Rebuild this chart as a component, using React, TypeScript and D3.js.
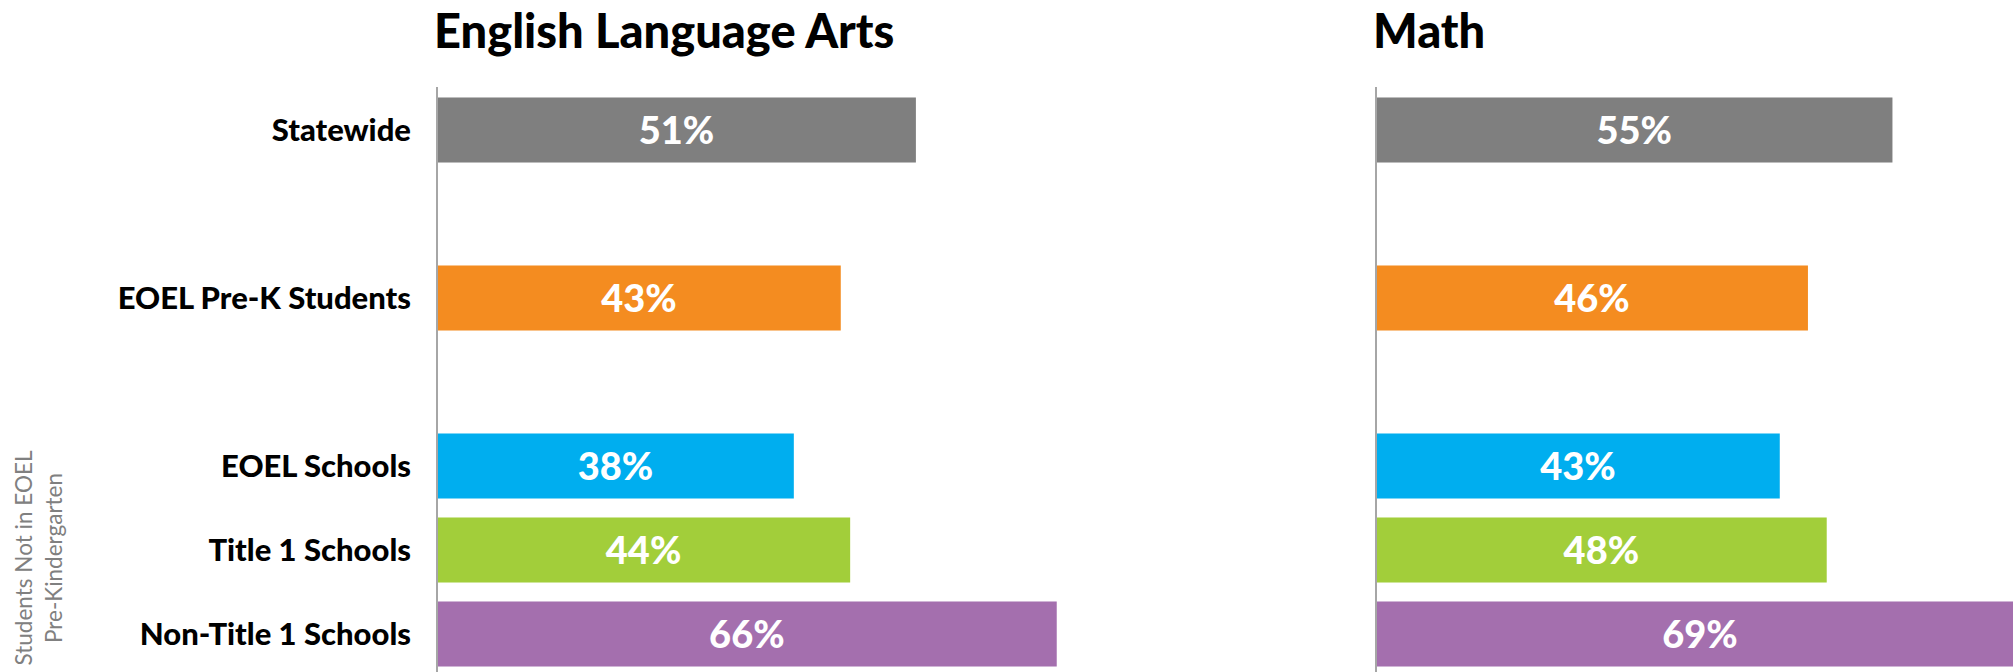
import { useRef, useEffect } from "react";
import * as d3 from "d3";

const categories = ["Statewide", "EOEL Pre-K Students", "EOEL Schools", "Title 1 Schools", "Non-Title 1 Schools"];
const elaValues = [51, 43, 38, 44, 66];
const mathValues = [55, 46, 43, 48, 69];
const barColors = ["#7f7f7f", "#f48c20", "#00aeef", "#a2ce3a", "#a46fae"];
const subjects = ["English Language Arts", "Math"];
const sideNote = ["Students Not in EOEL", "Pre-Kindergarten"];

const FONT = "Lato, 'Open Sans', sans-serif";

export default function App() {
  const svgRef = useRef<SVGSVGElement>(null);

  useEffect(() => {
    document.body.style.margin = "0";
    document.body.style.overflow = "hidden";
    if (!svgRef.current) return;

    const W = 2013;
    const H = 672;
    const svg = d3.select(svgRef.current);
    svg.selectAll("*").remove();
    svg.attr("width", W).attr("height", H);

    // empty slots after Statewide and after Pre-K give the bigger gaps
    const slots: string[] = [];
    categories.forEach((c, i) => {
      slots.push(c);
      if (i < 2) slots.push(`__gap${i}`);
    });

    const pad = 0.226;
    const y = d3.scaleBand<string>().domain(slots).range([88, 676]).paddingInner(pad).paddingOuter(pad / 2);
    const x = d3.scaleLinear().domain([0, 100]).range([0, 939]);

    const panels = [
      { title: subjects[0], values: elaValues, x0: 437 },
      { title: subjects[1], values: mathValues, x0: 1376 },
    ];

    panels.forEach((p) => {
      const g = svg.append("g").attr("transform", `translate(${p.x0},0)`);

      g.append("text")
        .attr("x", -3)
        .attr("y", 48)
        .attr("font-family", FONT)
        .attr("font-weight", 900)
        .attr("font-size", 47)
        .attr("fill", "#000")
        .text(p.title);

      g.selectAll("rect.bar")
        .data(p.values)
        .enter()
        .append("rect")
        .attr("class", "bar")
        .attr("x", 0)
        .attr("y", (_, i) => y(categories[i])!)
        .attr("width", (d) => x(d))
        .attr("height", y.bandwidth())
        .attr("fill", (_, i) => barColors[i]);

      g.selectAll("text.val")
        .data(p.values)
        .enter()
        .append("text")
        .attr("class", "val")
        .attr("x", (d) => x(d) / 2)
        .attr("y", (_, i) => y(categories[i])! + y.bandwidth() / 2)
        .attr("dy", "0.36em")
        .attr("text-anchor", "middle")
        .attr("font-family", FONT)
        .attr("font-weight", 900)
        .attr("font-size", 38)
        .attr("fill", "#fff")
        .text((d) => `${d}%`);

      g.append("line")
        .attr("x1", 0)
        .attr("x2", 0)
        .attr("y1", 87)
        .attr("y2", H)
        .attr("stroke", "#a6a6a6")
        .attr("stroke-width", 2);
    });

    // category labels (left panel only)
    svg
      .append("g")
      .selectAll("text")
      .data(categories)
      .enter()
      .append("text")
      .attr("x", 411)
      .attr("y", (d) => y(d)! + y.bandwidth() / 2)
      .attr("dy", "0.34em")
      .attr("text-anchor", "end")
      .attr("font-family", FONT)
      .attr("font-weight", 900)
      .attr("font-size", 31)
      .attr("fill", "#000")
      .text((d) => d);

    const note = svg
      .append("text")
      .attr("transform", "translate(32,558) rotate(-90)")
      .attr("text-anchor", "middle")
      .attr("font-family", FONT)
      .attr("font-size", 22.5)
      .attr("fill", "#808080");
    sideNote.forEach((line, i) => {
      note.append("tspan").attr("x", 0).attr("y", i * 30).text(line);
    });
  }, []);

  return <svg ref={svgRef} style={{ display: "block" }} />;
}
